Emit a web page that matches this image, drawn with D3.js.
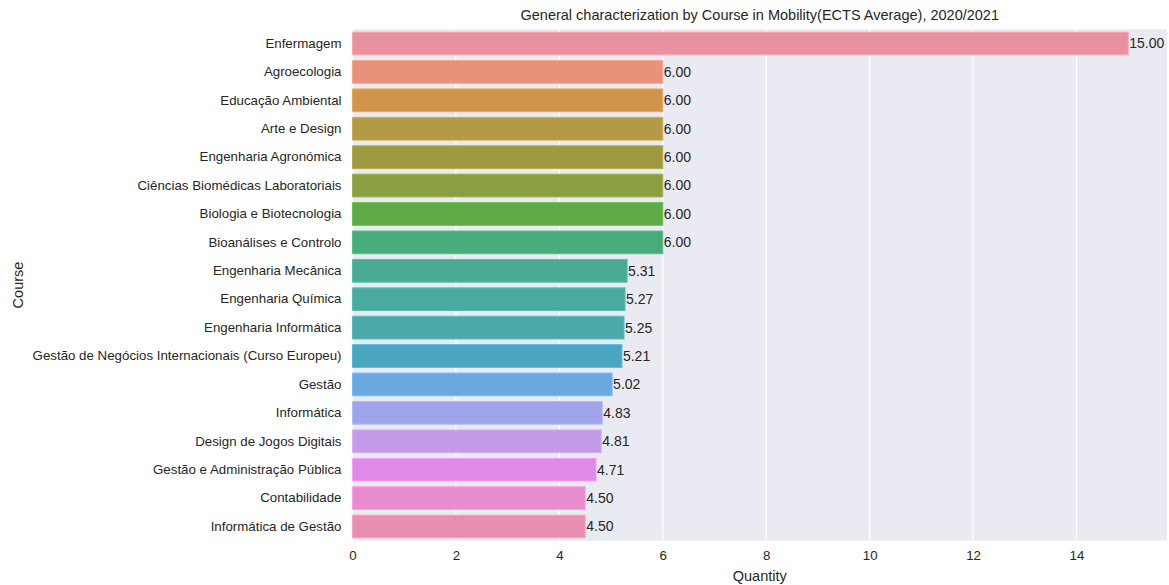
<!DOCTYPE html>
<html><head><meta charset="utf-8">
<script src="https://cdn.jsdelivr.net/npm/d3@7"></script>
<style>
body{margin:0;background:#fff;}
text{font-family:"Liberation Sans",Arial,sans-serif;fill:#262626;}
</style></head>
<body><svg id="c" width="1169" height="585"></svg>
<script>
const courses = ["Enfermagem","Agroecologia","Educação Ambiental","Arte e Design","Engenharia Agronómica","Ciências Biomédicas Laboratoriais","Biologia e Biotecnologia","Bioanálises e Controlo","Engenharia Mecânica","Engenharia Química","Engenharia Informática","Gestão de Negócios Internacionais (Curso Europeu)","Gestão","Informática","Design de Jogos Digitais","Gestão e Administração Pública","Contabilidade","Informática de Gestão"];
const values = [15.00,6.00,6.00,6.00,6.00,6.00,6.00,6.00,5.31,5.27,5.25,5.21,5.02,4.83,4.81,4.71,4.50,4.50];
const xTicks = [0,2,4,6,8,10,12,14];
const colors = ["#e8929f","#e7927a","#d1944a","#b59a45","#9d9a41","#8c9e43","#5fab46","#48ac7a","#49ab93","#4aaa9f","#4ba9a9","#4aa6c0","#6aa8e0","#a0a4e8","#c39ae8","#e08ae8","#e88dcb","#e78fb2"];
const title = "General characterization by Course in Mobility(ECTS Average), 2020/2021";

const svg = d3.select("#c");
const L=352.5, R=1167, T=29.3, B=540.7;
const x = d3.scaleLinear().domain([0,15.75]).range([L,R]);
const y = d3.scaleBand().domain(courses).range([T,B]).paddingInner(0.2).paddingOuter(0.1);

svg.append("rect").attr("x",L).attr("y",T).attr("width",R-L).attr("height",B-T).attr("fill","#eaeaf2");
svg.append("g").selectAll("line").data(xTicks).join("line")
  .attr("x1",d=>x(d)).attr("x2",d=>x(d)).attr("y1",T).attr("y2",B)
  .attr("stroke","#fff").attr("stroke-width",1.2);

svg.append("g").selectAll("rect").data(courses).join("rect")
  .attr("x",x(0)).attr("y",d=>y(d))
  .attr("width",(d,i)=>x(values[i])-x(0)).attr("height",y.bandwidth())
  .attr("fill",(d,i)=>colors[i])
  .attr("stroke",(d,i)=>d3.color(colors[i]).brighter(0.35)).attr("stroke-width",1);

svg.append("g").selectAll("text").data(courses).join("text")
  .attr("x",(d,i)=>x(values[i])+1).attr("y",d=>y(d)+y.bandwidth()/2)
  .attr("dy","0.35em").attr("font-size","14px")
  .text((d,i)=>values[i].toFixed(2));

const ya = svg.append("g").attr("transform",`translate(${L},0)`)
  .call(d3.axisLeft(y).tickSize(0).tickPadding(11));
ya.select(".domain").remove();
ya.selectAll("text").attr("font-size","13.3px").style("font-family","Liberation Sans, Arial, sans-serif").attr("fill","#262626");

const xa = svg.append("g").attr("transform",`translate(0,${B})`)
  .call(d3.axisBottom(x).tickValues(xTicks).tickFormat(d3.format("d")).tickSize(0).tickPadding(10));
xa.select(".domain").remove();
xa.selectAll("text").attr("font-size","13.3px").style("font-family","Liberation Sans, Arial, sans-serif").attr("fill","#262626");

svg.append("text").attr("x",(L+R)/2).attr("y",20).attr("text-anchor","middle").attr("font-size","14.5px").text(title);
svg.append("text").attr("x",(L+R)/2).attr("y",581).attr("text-anchor","middle").attr("font-size","14.5px").text("Quantity");
svg.append("text").attr("transform",`translate(23,${(T+B)/2}) rotate(-90)`).attr("text-anchor","middle").attr("font-size","14.5px").text("Course");
</script></body></html>
